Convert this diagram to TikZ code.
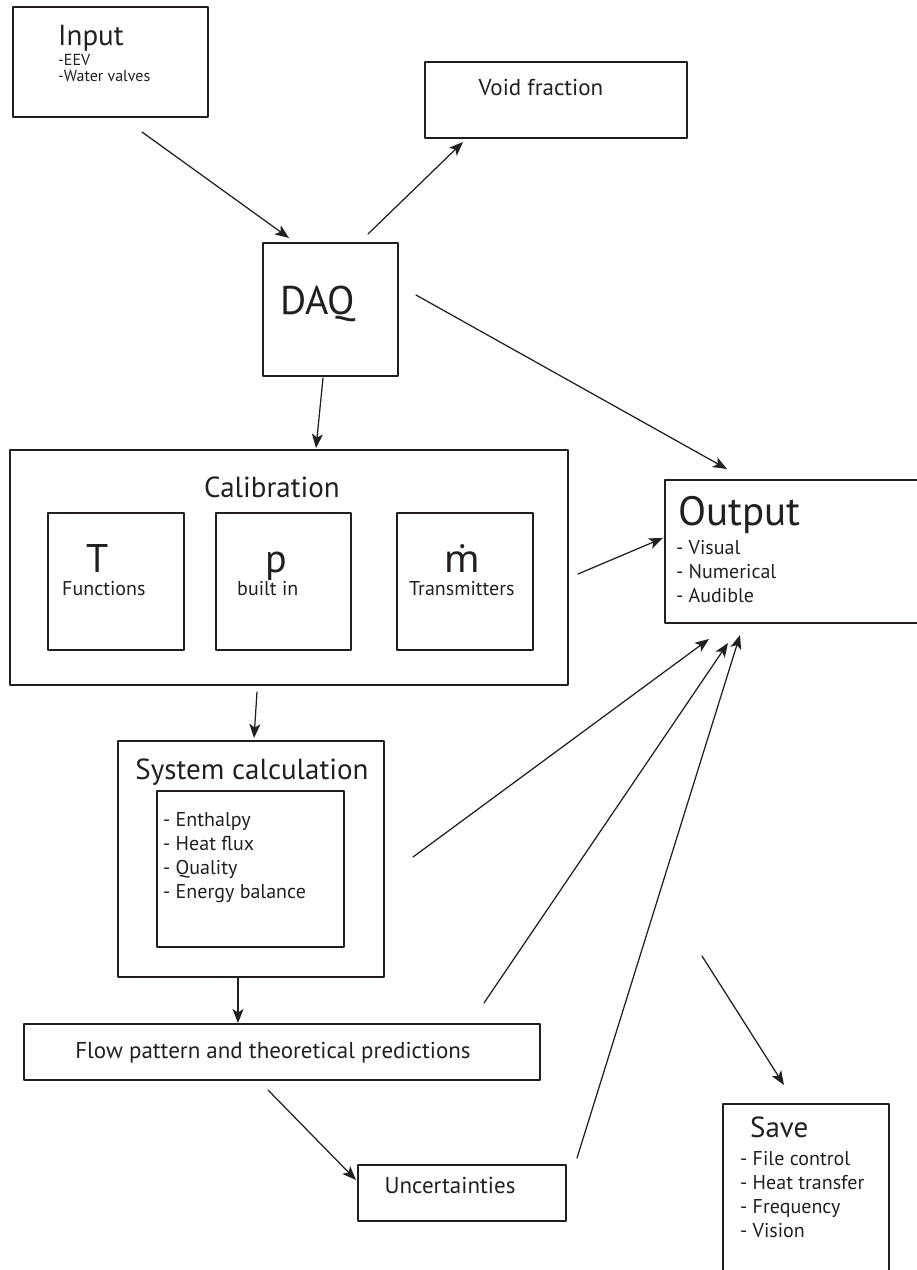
\documentclass[tikz,border=0pt]{standalone}
\usepackage{fontspec}
\setmainfont{PT Sans}
\newfontfamily\dotfont{Noto Sans}
\usetikzlibrary{arrows.meta}
\definecolor{ink}{RGB}{35,31,32}
\newcommand{\fsz}[1]{\fontsize{#1}{#1}\selectfont}

\begin{document}
\begin{tikzpicture}[x=1pt,y=-1pt,line cap=round,line join=round,
  box/.style={draw=ink,line width=1.5pt,inner sep=0pt},
  txt/.style={text=ink,inner sep=0pt,anchor=base west},
  ctxt/.style={text=ink,inner sep=0pt,anchor=base},
  conn/.style={draw=ink,line width=1.25pt,-{Stealth[length=14pt,width=11pt,inset=3.5pt]}}]
  \clip (0,0) rectangle (917,1270);
  % boxes
  \node[box,minimum width=195pt,minimum height=110pt] (input) at (110.5,62) {};
  \node[box,minimum width=262pt,minimum height=76pt] (void) at (556,100) {};
  \node[box,minimum width=135pt,minimum height=133pt] (daq) at (330.5,309.5) {};
  \node[box,minimum width=558pt,minimum height=235pt] (cal) at (289,567.5) {};
  \node[box,minimum width=136pt,minimum height=137pt] (tbox) at (116,581.5) {};
  \node[box,minimum width=135pt,minimum height=137pt] (pbox) at (283.5,581.5) {};
  \node[box,minimum width=136pt,minimum height=137pt] (mbox) at (465,581.5) {};
  \node[box,minimum width=275pt,minimum height=143pt] (out) at (802.5,551.5) {};
  \node[box,minimum width=266pt,minimum height=236pt] (sys) at (251,859) {};
  \node[box,minimum width=187pt,minimum height=156pt] (sysin) at (250.5,869) {};
  \node[box,minimum width=516pt,minimum height=56pt] (flow) at (282,1052) {};
  \node[box,minimum width=208pt,minimum height=56pt] (unc) at (462,1193) {};
  \node[box,minimum width=166pt,minimum height=196pt] (save) at (806,1202) {};

  % texts
  \node[txt,font=\fsz{29}] (inputT) at (58,45) {Input};
  \node[txt,font=\fsz{16}] (eev) at (58,65) {-EEV};
  \node[txt,font=\fsz{16}] (valves) at (58,81) {-Water valves};
  \node[ctxt,font=\fsz{23}] (voidT) at (541,95) {Void fraction};
  \node[txt,font=\fsz{40}] (daqT) at (280,314) {DAQ};
  \node[ctxt,font=\fsz{29}] (calT) at (272,497) {Calibration};
  \node[ctxt,font=\fsz{40}] (tT) at (98,572) {T};
  \node[txt,font=\fsz{20}] (tF) at (62,595) {Functions};
  \node[ctxt,font=\fsz{40}] (pT) at (276,572) {p};
  \node[txt,font=\fsz{20}] (pF) at (237,595) {built in};
  \node[ctxt,font=\dotfont\fsz{38}] (mT) at (462,572) {ṁ};
  \node[txt,font=\fsz{20}] (mF) at (409,595) {Transmitters};
  \node[txt,font=\fsz{41}] (outT) at (678,525) {Output};
  \foreach \t [count=\i] in {Visual,Numerical,Audible}
    \node[txt,font=\fsz{20}] (out\i) at (676,530+24*\i) {- \t};
  \node[ctxt,font=\fsz{29}] (sysT) at (252,779) {System calculation};
  \foreach \t [count=\i] in {Enthalpy,Heat flux,Quality,Energy balance}
    \node[txt,font=\fsz{20}] (sys\i) at (163,802+24*\i) {- \t};
  \node[ctxt,font=\fsz{23}] (flowT) at (273,1058) {Flow pattern and theoretical predictions};
  \node[ctxt,font=\fsz{23}] (uncT) at (450,1193) {Uncertainties};
  \node[txt,font=\fsz{29}] (saveT) at (750,1137) {Save};
  \foreach \t [count=\i] in {File control,Heat transfer,Frequency,Vision}
    \node[txt,font=\fsz{20}] (save\i) at (740,1141+24*\i) {- \t};

  % arrow ends
  \coordinate (inputOut) at (142,132);
  \coordinate (daqIn) at (289,238);
  \coordinate (daqUp) at (368,234);
  \coordinate (voidIn) at (463,142);
  \coordinate (daqRight) at (416,295);
  \coordinate (outTop) at (727,469);
  \coordinate (daqDown) at (323,378);
  \coordinate (calIn) at (316,448);
  \coordinate (calRight) at (578,574);
  \coordinate (outLeft) at (663,538);
  \coordinate (calDown) at (257,692);
  \coordinate (sysIn) at (254,738);
  \coordinate (sysRight) at (413,857);
  \coordinate (outB1) at (709,639);
  \coordinate (flowUp) at (484,1003);
  \coordinate (outB2) at (728,643);
  \coordinate (uncUp) at (577,1158);
  \coordinate (outB3) at (740,635);
  \coordinate (sysDown) at (238,978);
  \coordinate (flowIn) at (238,1023);
  \coordinate (flowDown) at (268,1090);
  \coordinate (uncIn) at (356,1180);
  \coordinate (outSave) at (702,956);
  \coordinate (saveIn) at (784,1085);

  % connectors
  \draw[conn] (inputOut) -- (daqIn);
  \draw[conn] (daqUp) -- (voidIn);
  \draw[conn] (daqRight) -- (outTop);
  \draw[conn] (daqDown) -- (calIn);
  \draw[conn] (calRight) -- (outLeft);
  \draw[conn] (calDown) -- (sysIn);
  \draw[conn] (sysRight) -- (outB1);
  \draw[conn] (flowUp) -- (outB2);
  \draw[conn] (uncUp) -- (outB3);
  \draw[conn] (sysDown) -- (flowIn);
  \draw[conn] (flowDown) -- (uncIn);
  \draw[conn] (outSave) -- (saveIn);
\end{tikzpicture}
\end{document}
